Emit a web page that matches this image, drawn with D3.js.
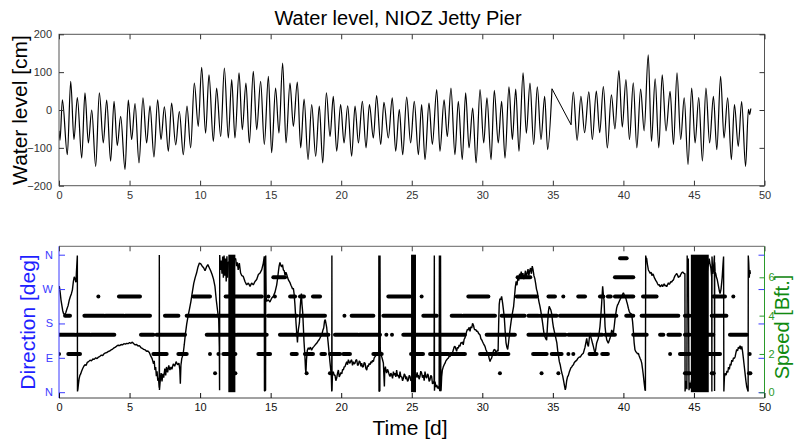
<!DOCTYPE html>
<html><head><meta charset="utf-8">
<script src="https://cdn.jsdelivr.net/npm/d3@7"></script>
<style>body{margin:0;background:#fff;} svg{display:block;font-family:"Liberation Sans",Arial,Helvetica,sans-serif;}</style>
</head><body><svg id="c" width="794" height="444"></svg>
<script>
// ---------------- DATA ----------------
const timeTicks = [0,5,10,15,20,25,30,35,40,45,50];
const levelTicks = [-200,-100,0,100,200];
const dirTicks = [0,90,180,270,360];
const dirLabels = ["N","E","S","W","N"];
const bftTicks = [0,2,4,6];

// water level extremes (day, cm), before and after the data gap
const tideA = [[0.0,-55],[0.07,-80],[0.24,27],[0.59,-118],[0.83,76],[1.06,-78],[1.30,33],[1.61,-127],[1.84,45],[2.08,-87],[2.32,0],[2.60,-149],[2.86,45],[3.14,-87],[3.38,26],[3.66,-135],[3.90,23],[4.13,-94],[4.37,-17],[4.68,-157],[4.91,26],[5.15,-78],[5.39,17],[5.67,-140],[5.95,32],[6.21,-87],[6.45,11],[6.73,-124],[6.99,27],[7.23,-78],[7.47,8],[7.75,-109],[7.98,18],[8.27,-92],[8.53,-4],[8.81,-118],[9.07,10],[9.33,-100],[9.59,71],[9.87,-43],[10.11,113],[10.39,-61],[10.63,93],[10.94,-83],[11.17,58],[11.46,-70],[11.72,111],[12.00,-74],[12.24,80],[12.47,-74],[12.76,98],[12.99,-52],[13.25,71],[13.49,-87],[13.77,102],[14.01,-52],[14.29,76],[14.55,-91],[14.84,89],[15.07,-113],[15.35,58],[15.59,-61],[15.85,124],[16.09,-87],[16.37,71],[16.61,-43],[16.89,74],[17.13,-100],[17.37,29],[17.65,-131],[17.91,14],[18.19,-122],[18.45,10],[18.69,-140],[18.95,45],[19.21,-70],[19.44,36],[19.68,-109],[19.96,14],[20.20,-87],[20.46,11],[20.74,-122],[20.98,10],[21.22,-87],[21.50,23],[21.76,-100],[22.00,14],[22.28,-74],[22.51,38],[22.80,-91],[23.03,20],[23.34,-74],[23.62,32],[23.86,-109],[24.12,1],[24.36,-118],[24.64,34],[24.92,-87],[25.18,23],[25.47,-118],[25.70,14],[25.94,-131],[26.22,18],[26.46,-91],[26.77,54],[27.00,-109],[27.29,27],[27.52,-70],[27.78,58],[28.06,-118],[28.30,23],[28.58,-131],[28.82,45],[29.06,-100],[29.32,5],[29.56,-140],[29.84,54],[30.10,-87],[30.33,32],[30.62,-131],[30.85,52],[31.13,-87],[31.37,23],[31.61,-127],[31.89,61],[32.13,-78],[32.37,55],[32.60,-109],[32.89,98],[33.12,-61],[33.38,71],[33.64,-91],[33.90,61],[34.16,-78],[34.42,36],[34.63,-105],[34.94,56]];
const tideB = [[36.29,-39],[36.45,47],[36.72,-80],[36.99,36],[37.25,-60],[37.55,48],[37.80,-78],[38.08,50],[38.32,-60],[38.58,62],[38.86,-100],[39.15,40],[39.40,-50],[39.68,104],[39.92,-45],[40.18,80],[40.43,-78],[40.70,72],[40.95,-100],[41.22,55],[41.47,-55],[41.76,146],[41.99,-83],[42.25,82],[42.51,-100],[42.75,93],[43.02,-55],[43.31,49],[43.55,-91],[43.80,98],[44.06,-78],[44.31,32],[44.58,-144],[44.84,58],[45.08,-87],[45.34,33],[45.60,-135],[45.85,58],[46.11,-87],[46.38,36],[46.62,-105],[46.89,89],[47.13,-74],[47.39,32],[47.65,-131],[47.87,14],[48.14,-96],[48.38,22],[48.66,-149],[48.86,2],[48.95,-12],[49.03,4]];

// wind direction (day, degrees)
const windDir = [[0.02,278],[0.08,262],[0.14,242],[0.2,228],[0.26,214],[0.32,206],[0.4,203],[0.48,208],[0.56,218],[0.64,226],[0.72,240],[0.8,250],[0.88,258],[0.95,268],[1.02,290],[1.08,302],[1.14,296],[1.2,288],[1.24,318],[1.28,345],[1.3,358],[1.31,2],[1.34,8],[1.38,22],[1.42,34],[1.48,44],[1.54,48],[1.6,55],[1.68,62],[1.76,68],[1.84,72],[1.92,70],[2.0,78],[2.1,80],[2.2,84],[2.3,82],[2.4,87],[2.5,86],[2.6,90],[2.7,88],[2.8,92],[2.9,94],[3.0,97],[3.1,96],[3.2,101],[3.3,103],[3.4,104],[3.5,107],[3.6,108],[3.7,111],[3.8,113],[3.9,116],[4.0,118],[4.1,121],[4.2,123],[4.3,122],[4.4,125],[4.5,124],[4.6,127],[4.7,126],[4.8,128],[4.9,127],[5.0,130],[5.1,128],[5.2,131],[5.3,127],[5.4,124],[5.5,125],[5.6,121],[5.7,122],[5.8,117],[5.9,115],[6.0,112],[6.1,111],[6.2,107],[6.3,108],[6.4,104],[6.5,95],[6.6,88],[6.7,74],[6.75,82],[6.8,58],[6.85,66],[6.9,42],[6.95,55],[7.0,30],[7.05,38],[7.1,12],[7.11,359],[7.12,6],[7.18,32],[7.24,50],[7.3,28],[7.36,48],[7.42,38],[7.5,62],[7.56,44],[7.62,66],[7.7,52],[7.78,70],[7.86,58],[7.94,66],[8.0,60],[8.1,74],[8.2,68],[8.3,80],[8.4,72],[8.5,76],[8.56,60],[8.6,22],[8.64,70],[8.7,88],[8.8,100],[8.88,125],[8.95,150],[9.05,178],[9.15,200],[9.25,218],[9.35,238],[9.45,262],[9.55,285],[9.65,300],[9.75,312],[9.85,328],[9.95,338],[10.05,336],[10.15,330],[10.25,326],[10.35,318],[10.45,328],[10.55,334],[10.65,326],[10.75,318],[10.85,308],[10.95,296],[11.05,278],[11.15,240],[11.25,210],[11.32,190],[11.36,120],[11.38,5],[11.39,359],[11.44,320],[11.5,345],[11.55,310],[11.6,355],[11.65,300],[11.7,358],[11.75,305],[11.8,350],[11.85,290],[11.9,356],[11.95,300],[12.0,340],
[12.52,350],[12.58,330],[12.64,340],[12.7,320],[12.78,338],[12.87,312],[12.96,305],[13.06,303],[13.18,290],[13.3,281],[13.42,286],[13.54,277],[13.65,286],[13.77,281],[13.89,290],[14.01,295],[14.13,308],[14.25,312],[14.37,321],[14.48,338],[14.55,356],[14.56,3],[14.64,5],[14.65,358],[14.68,250],[14.72,238],[14.84,242],[14.95,236],[15.07,246],[15.19,251],[15.31,262],[15.43,281],[15.5,300],[15.55,316],[15.6,330],[15.66,340],[15.72,332],[15.78,328],[15.84,334],[15.9,320],[15.96,318],[16.02,306],[16.08,314],[16.14,308],[16.2,300],[16.26,294],[16.32,290],[16.38,286],[16.44,280],[16.49,276],[16.55,270],[16.61,272],[16.66,258],[16.72,230],[16.76,205],[16.8,180],[16.85,155],[16.9,130],[16.93,150],[16.97,165],[17.04,182],[17.1,225],[17.13,240],[17.18,258],[17.22,230],[17.27,210],[17.32,170],[17.36,135],[17.42,100],[17.47,60],[17.5,50],[17.54,85],[17.6,110],[17.67,116],[17.74,112],[17.82,118],[17.9,110],[17.98,116],[18.07,120],[18.16,124],[18.26,128],[18.36,134],[18.45,138],[18.54,145],[18.62,150],[18.7,162],[18.76,168],[18.82,186],[18.87,190],[18.93,178],[18.97,170],[19.02,150],[19.08,128],[19.14,104],[19.2,80],[19.26,58],[19.3,40],[19.33,2],[19.34,358],[19.35,4],[19.38,50],[19.44,54],[19.5,44],[19.56,45],[19.62,30],[19.68,37],[19.74,50],[19.8,58],[19.86,40],[19.92,45],[19.98,52],[20.04,48],[20.1,60],[20.15,58],[20.21,66],[20.27,67],[20.33,74],[20.39,80],[20.45,72],[20.51,85],[20.57,78],[20.62,76],[20.68,82],[20.74,85],[20.8,70],[20.86,80],[20.92,74],[20.98,76],[21.04,84],[21.1,85],[21.16,70],[21.22,72],[21.28,82],[21.33,80],[21.4,68],[21.45,76],[21.51,66],[21.57,67],[21.63,78],[21.69,76],[21.75,62],[21.81,58],[21.87,70],[21.92,67],[21.98,75],[22.04,72],[22.1,80],[22.16,76],[22.22,84],[22.28,80],[22.34,90],[22.4,93],[22.46,96],[22.51,98],[22.57,100],[22.63,102],[22.66,105],[22.67,358],[22.68,2],[22.74,4],[22.75,358],[22.77,111],[22.82,100],[22.87,93],[22.93,85],[22.99,76],[23.03,40],[23.06,15],[23.09,60],[23.13,67],[23.18,56],[23.22,50],[23.28,60],[23.34,54],[23.4,46],[23.46,41],[23.52,50],[23.58,45],[23.64,36],[23.7,54],[23.76,44],[23.81,50],[23.87,40],[23.93,58],[23.99,42],[24.05,45],[24.11,36],[24.17,54],[24.23,40],[24.29,41],[24.35,30],[24.41,37],[24.47,48],[24.52,45],[24.58,34],[24.64,41],[24.7,28],[24.76,32],[24.82,44],[24.88,41],[24.94,30],
[25.32,40],[25.38,52],[25.44,38],[25.47,45],[25.52,34],[25.58,41],[25.64,55],[25.7,50],[25.76,38],[25.82,45],[25.88,30],[25.94,54],[26.0,40],[26.06,37],[26.12,48],[26.17,45],[26.23,28],[26.29,32],[26.35,44],[26.41,41],[26.47,22],[26.53,24],[26.58,30],[26.6,358],[26.61,4],[26.65,28],[26.71,14],[26.77,19],[26.83,10],[26.89,15],[26.94,8],[26.96,358],[26.98,3],[27.02,5],[27.04,358],[27.06,3],[27.08,6],[27.12,40],[27.17,58],[27.24,67],[27.3,72],[27.36,76],[27.42,82],[27.48,85],[27.54,88],[27.59,89],[27.65,95],[27.71,93],[27.77,100],[27.83,98],[27.89,104],[27.95,111],[28.0,118],[28.06,120],[28.12,114],[28.18,107],[28.24,118],[28.3,115],[28.36,124],[28.42,120],[28.48,130],[28.54,128],[28.6,132],[28.65,124],[28.71,138],[28.77,142],[28.83,150],[28.89,159],[28.95,165],[29.01,163],[29.07,170],[29.13,159],[29.19,172],[29.25,168],[29.31,180],[29.37,176],[29.43,166],[29.48,163],[29.54,164],[29.6,159],[29.66,160],[29.72,155],[29.78,152],[29.84,150],[29.9,140],[29.96,137],[30.02,132],[30.07,128],[30.13,124],[30.19,120],[30.25,112],[30.31,107],[30.37,100],[30.43,98],[30.49,88],[30.55,80],[30.6,86],[30.66,89],[30.72,98],[30.78,107],[30.84,112],[30.9,111],[30.96,104],[31.02,107],[31.08,110],[31.12,107],[31.16,180],[31.2,230],[31.25,245],[31.3,242],[31.37,251],[31.44,233],[31.5,215],[31.56,195],[31.62,160],[31.68,130],[31.74,118],[31.8,112],[31.86,130],[31.92,150],[31.98,168],[32.04,185],[32.1,200],[32.16,212],[32.22,225],[32.28,250],[32.34,275],[32.4,290],[32.46,280],[32.52,300],[32.58,292],[32.64,310],[32.7,302],[32.76,316],[32.82,300],[32.88,312],[32.94,296],[33.0,305],[33.06,318],[33.12,300],[33.18,312],[33.24,322],[33.3,305],[33.36,318],[33.42,325],[33.48,310],[33.54,330],[33.6,320],[33.66,305],[33.72,298],[33.78,285],[33.84,270],[33.9,262],[33.96,248],[34.02,236],[34.08,226],[34.14,214],[34.2,200],[34.26,185],[34.32,168],[34.38,152],[34.44,145],[34.5,140],[34.56,136],[34.62,175],[34.68,210],[34.74,225],[34.8,220],[34.86,215],[34.92,205],[34.98,185],[35.04,170],[35.1,160],[35.16,150],[35.22,140],[35.28,130],[35.34,110],[35.4,95],[35.46,80],[35.52,72],[35.58,60],[35.64,50],[35.7,42],[35.76,30],[35.82,18],[35.88,6],[35.92,12],[35.98,30],[36.04,40],[36.1,44],[36.16,52],[36.22,58],[36.28,64],[36.34,66],[36.4,70],[36.46,72],[36.52,78],[36.58,80],[36.64,82],[36.7,84],[36.76,88],[36.82,90],[36.88,92],[36.94,92],[37.04,98],[37.16,102],[37.28,118],[37.4,141],[37.46,125],[37.52,120],[37.58,140],[37.63,155],[37.69,145],[37.75,137],[37.81,128],[37.87,120],[37.93,110],[37.99,102],[38.05,115],[38.1,128],[38.16,135],[38.22,141],[38.28,155],[38.34,172],[38.4,200],[38.46,233],[38.53,277],[38.58,255],[38.63,240],[38.7,172],[38.76,150],[38.82,137],[38.88,132],[38.93,128],[38.99,135],[39.05,141],[39.11,150],[39.17,163],[39.23,158],[39.29,155],[39.35,172],[39.4,190],[39.46,205],[39.52,220],[39.58,228],[39.64,232],[39.71,238],[39.78,244],[39.84,248],[39.88,251],[39.94,256],[40.0,260],[40.06,255],[40.12,251],[40.18,245],[40.23,238],[40.29,230],[40.35,220],[40.41,212],[40.47,207],[40.53,206],[40.59,203],[40.65,185],[40.7,163],[40.76,130],[40.82,111],[40.88,106],[40.94,104],[41.0,100],[41.06,102],[41.12,95],[41.18,89],[41.24,84],[41.3,76],[41.36,60],[41.41,45],[41.47,25],[41.53,6],[41.56,4],[41.58,358],[41.6,352],[41.65,350],[41.7,335],[41.77,320],[41.83,316],[41.9,311],[41.96,314],[42.02,305],[42.08,310],[42.13,307],[42.19,300],[42.25,296],[42.3,292],[42.36,289],[42.42,284],[42.48,280],[42.54,282],[42.6,276],[42.66,278],[42.72,282],[42.78,276],[42.83,280],[42.89,284],[42.95,278],[43.01,280],[43.07,276],[43.13,282],[43.19,286],[43.25,282],[43.3,285],[43.36,290],[43.42,288],[43.48,292],[43.55,294],[43.6,300],[43.66,305],[43.72,308],[43.78,311],[43.84,306],[43.9,300],[43.96,304],[44.0,302],[44.06,308],[44.12,312],[44.2,315],[44.26,312],[44.32,310],[44.36,311],[44.37,2],[44.4,15],[44.45,30],[44.5,8],[44.52,358],[44.55,300],[44.6,350],[44.65,5],[44.7,25],[44.75,10],
[46.08,350],[46.14,335],[46.2,325],[46.26,300],[46.27,2],[46.28,355],[46.33,310],[46.4,330],[46.45,358],[46.46,3],[46.47,340],[46.5,315],[46.55,310],[46.6,300],[46.65,295],[46.7,285],[46.75,275],[46.8,265],[46.85,258],[46.92,270],[47.0,300],[47.06,335],[47.1,355],[47.12,2],[47.16,40],[47.21,49],[47.28,45],[47.34,56],[47.4,52],[47.45,66],[47.51,60],[47.57,74],[47.62,70],[47.68,84],[47.74,80],[47.8,90],[47.86,88],[47.92,93],[47.98,104],[48.03,112],[48.09,108],[48.15,118],[48.21,114],[48.27,122],[48.33,112],[48.39,120],[48.44,108],[48.5,90],[48.56,70],[48.62,50],[48.68,30],[48.74,14],[48.8,6],[48.84,2],[48.85,358],[48.88,340],[48.92,300],[48.96,320],[49.0,310]];

// intervals where the direction flips around north continuously (day start, day end)
const northBands = [[12.0,12.5],[24.95,25.3],[44.78,46.05]];

// wind speed, runs of equal Beaufort value: [day start, day end, Bft]
const speedRuns = [
[0.0,0.0,2],[0.66,1.49,2],[6.69,7.63,2],[8.46,9.05,2],[10.7,10.7,2],[11.3,11.3,2],[11.65,12.5,2],[14.13,14.96,2],[16.49,16.85,2],[17.43,18.0,2],[18.6,18.85,2],[19.21,19.92,2],[20.15,20.62,2],[22.28,22.87,2],[24.95,25.8,2],[26.3,27.6,2],[27.75,28.77,2],[29.84,31.0,2],[31.15,31.85,2],[33.6,34.56,2],[34.92,35.62,2],[36.1,36.1,2],[36.45,36.45,2],[37.6,38.1,2],[38.5,38.9,2],[43.31,43.31,2],[44.01,44.7,2],[46.02,46.85,2],[48.95,48.95,2],
[0.0,1.1,3],[1.2,2.2,3],[2.3,3.92,3],[5.81,6.69,3],[6.92,8.93,3],[10.47,11.3,3],[11.4,12.5,3],[12.6,14.72,3],[15.66,16.61,3],[16.73,19.09,3],[19.56,21.2,3],[21.3,22.75,3],[23.2,23.2,3],[23.6,23.6,3],[24.4,28.77,3],[30.31,32.31,3],[33.27,35.9,3],[36.1,38.5,3],[38.7,39.4,3],[40.7,41.65,3],[42.6,42.83,3],[43.19,44.01,3],[44.36,44.7,3],[46.02,46.37,3],[47.55,48.74,3],
[0.43,0.78,4],[1.8,3.2,4],[3.3,4.6,4],[4.7,6.45,4],[7.51,8.46,4],[9.05,11.06,4],[11.17,14.48,4],[14.8,16.85,4],[17.08,18.85,4],[20.23,20.23,4],[20.74,22.28,4],[22.99,25.1,4],[25.82,26.77,4],[27.83,28.54,4],[28.65,30.9,4],[31.37,33.0,4],[33.27,33.97,4],[34.09,35.27,4],[35.5,39.5,4],[40.2,40.7,4],[41.29,43.89,4],[44.36,44.7,4],[46.26,47.3,4],
[2.79,2.79,5],[4.25,5.74,5],[9.52,10.7,5],[11.81,14.37,5],[14.84,14.84,5],[15.3,15.3,5],[16.38,16.73,5],[17.08,17.36,5],[18.0,18.5,5],[23.34,24.88,5],[25.7,25.7,5],[29.01,30.43,5],[32.44,33.86,5],[34.69,35.15,5],[35.74,35.74,5],[36.8,37.28,5],[38.34,38.58,5],[38.9,39.1,5],[39.4,40.7,5],[41.39,42.35,5],[46.37,47.2,5],[47.79,47.79,5],
[15.19,16.02,6],[32.5,33.4,6],[39.4,40.7,6],
[39.76,40.23,7],
[11.06,11.06,1],[12.4,12.5,1],[17.55,17.55,1],[19.2,19.2,1],[31.25,31.25,1],[34.2,34.2,1],[35.39,35.39,1],[44.36,44.7,1],[46.26,46.4,1],[48.9,49.0,1]
];

// ---------------- DRAWING ----------------
const svg = d3.select('#c');
svg.append('rect').attr('width',794).attr('height',444).attr('fill','#fff');
const L = 59, R = 764.5;
const x = d3.scaleLinear().domain([0,50]).range([L,R]);
const T1 = 34.3, B1 = 185.7;
const yW = d3.scaleLinear().domain([-200,200]).range([B1,T1]);
const T2 = 246.3, B2 = 398;
const yD = d3.scaleLinear().domain([0,360]).range([392.2,254.7]);
const yS = d3.scaleLinear().domain([0,6]).range([392.3,277.3]);

const defs = svg.append('defs');
defs.append('clipPath').attr('id','c1').append('rect').attr('x',L).attr('y',T1).attr('width',R-L).attr('height',B1-T1);
defs.append('clipPath').attr('id','c2').append('rect').attr('x',L).attr('y',T2).attr('width',R-L).attr('height',B2-T2);

function styleAxis(g, col, fs){
  g.select('.domain').remove();
  g.selectAll('.tick line').attr('stroke',col).attr('stroke-width',1);
  g.selectAll('.tick text').attr('fill',col).attr('font-size',fs).attr('font-family','"Liberation Sans",Arial,sans-serif');
}

// ---- top panel ----
const p1 = svg.append('g').attr('clip-path','url(#c1)');
const tideLine = d3.line().x(d=>x(d[0])).y(d=>yW(d[1])).curve(d3.curveMonotoneX);
p1.append('path').datum(tideA).attr('d',tideLine).attr('fill','none').attr('stroke','#000').attr('stroke-width',1.2);
p1.append('path').datum(tideB).attr('d',tideLine).attr('fill','none').attr('stroke','#000').attr('stroke-width',1.2);
p1.append('path').datum([tideA[tideA.length-1], tideB[0]]).attr('d',d3.line().x(d=>x(d[0])).y(d=>yW(d[1]))).attr('fill','none').attr('stroke','#000').attr('stroke-width',1);

svg.append('rect').attr('x',L).attr('y',T1).attr('width',R-L).attr('height',B1-T1).attr('fill','none').attr('stroke','#555').attr('stroke-width',1);
styleAxis(svg.append('g').attr('transform',`translate(0,${B1})`).call(d3.axisBottom(x).tickValues(timeTicks).tickSize(-5).tickPadding(6).tickFormat(d3.format('d'))),'#333',11);
styleAxis(svg.append('g').attr('transform',`translate(0,${T1})`).call(d3.axisTop(x).tickValues(timeTicks).tickSize(-5).tickFormat('')),'#333',11);
styleAxis(svg.append('g').attr('transform',`translate(${L},0)`).call(d3.axisLeft(yW).tickValues(levelTicks).tickSize(-5).tickPadding(7).tickFormat(d3.format('d'))),'#333',11);
styleAxis(svg.append('g').attr('transform',`translate(${R},0)`).call(d3.axisRight(yW).tickValues(levelTicks).tickSize(-5).tickFormat('')),'#333',11);

svg.append('text').attr('x',398).attr('y',25).attr('text-anchor','middle').attr('font-size',20).attr('fill','#000').text('Water level, NIOZ Jetty Pier');
svg.append('text').attr('transform','translate(27,110) rotate(-90)').attr('text-anchor','middle').attr('font-size',21).attr('fill','#000').text('Water level [cm]');

// ---- bottom panel ----
const p2 = svg.append('g').attr('clip-path','url(#c2)');
p2.selectAll('line.run').data(speedRuns).join('line').attr('class','run')
  .attr('x1',d=>x(d[0])).attr('x2',d=>x(d[1])).attr('y1',d=>yS(d[2])).attr('y2',d=>yS(d[2]))
  .attr('stroke','#000').attr('stroke-width',4).attr('stroke-linecap','round');
p2.selectAll('rect.band').data(northBands).join('rect').attr('class','band')
  .attr('x',d=>x(d[0])).attr('width',d=>x(d[1])-x(d[0])).attr('y',yD(360)).attr('height',yD(0)-yD(360)).attr('fill','#000');
p2.append('path').datum(windDir).attr('d',d3.line().x(d=>x(d[0])).y(d=>yD(d[1]))).attr('fill','none').attr('stroke','#000').attr('stroke-width',1.4).attr('stroke-linejoin','bevel');

svg.append('line').attr('x1',L).attr('x2',R).attr('y1',T2).attr('y2',T2).attr('stroke','#666');
svg.append('line').attr('x1',L).attr('x2',R).attr('y1',B2).attr('y2',B2).attr('stroke','#444');
svg.append('line').attr('x1',L).attr('x2',L).attr('y1',T2).attr('y2',B2).attr('stroke','#3a3aff');
svg.append('line').attr('x1',R).attr('x2',R).attr('y1',T2).attr('y2',B2).attr('stroke','#2a9a2a');
styleAxis(svg.append('g').attr('transform',`translate(0,${B2})`).call(d3.axisBottom(x).tickValues(timeTicks).tickSize(-5).tickPadding(5).tickFormat(d3.format('d'))),'#111',11);
styleAxis(svg.append('g').attr('transform',`translate(0,${T2})`).call(d3.axisTop(x).tickValues(timeTicks).tickSize(-5).tickFormat('')),'#444',11);
styleAxis(svg.append('g').attr('transform',`translate(${L},0)`).call(d3.axisLeft(yD).tickValues(dirTicks).tickSize(-6).tickPadding(6).tickFormat((d,i)=>dirLabels[i])),'#3a3aff',11);
styleAxis(svg.append('g').attr('transform',`translate(${R},0)`).call(d3.axisRight(yD).tickValues(dirTicks).tickSize(-6).tickFormat('')),'#3a3aff',11);
styleAxis(svg.append('g').attr('transform',`translate(${R},0)`).call(d3.axisRight(yS).tickValues(bftTicks).tickSize(-5).tickPadding(4).tickFormat(d3.format('d'))),'#2a9a2a',11);

svg.append('text').attr('transform','translate(35,322) rotate(-90)').attr('text-anchor','middle').attr('font-size',21).attr('fill','#1f1fff').text('Direction [deg]');
svg.append('text').attr('transform','translate(789,327) rotate(-90)').attr('text-anchor','middle').attr('font-size',20).attr('fill','#108a10').text('Speed [Bft.]');
svg.append('text').attr('x',410).attr('y',435).attr('text-anchor','middle').attr('font-size',21).attr('fill','#000').text('Time [d]');
</script></body></html>
